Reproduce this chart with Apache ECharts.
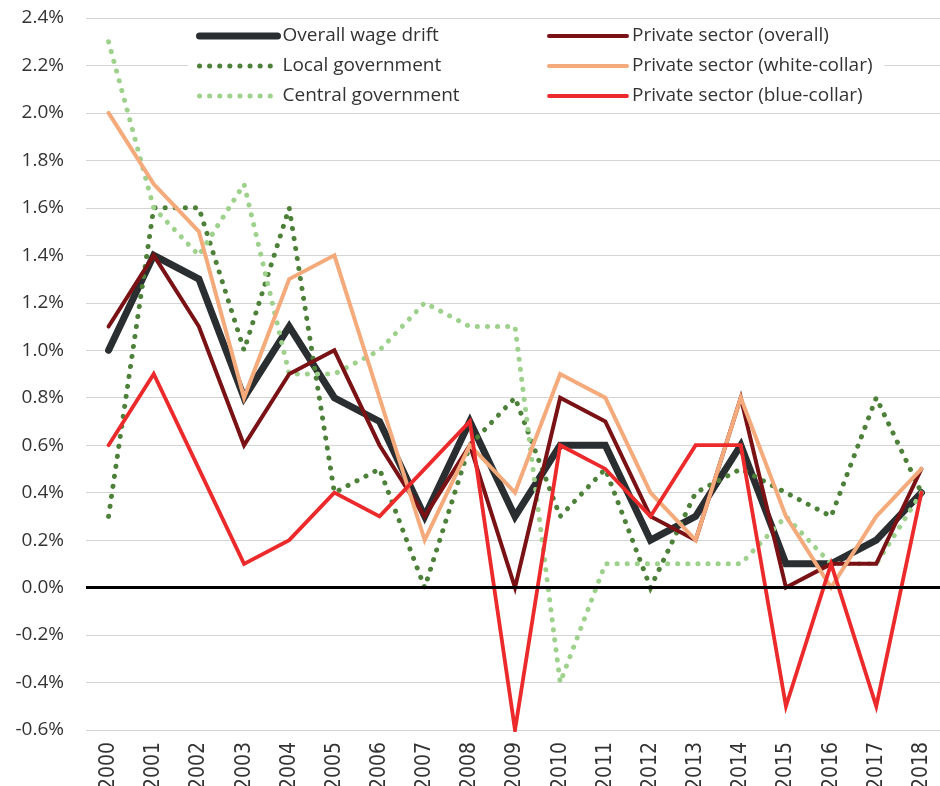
<!DOCTYPE html>
<html>
<head>
<meta charset="utf-8">
<script src="https://cdn.jsdelivr.net/npm/echarts@6/dist/echarts.min.js"></script>
<style>
  html, body { margin: 0; padding: 0; background: #fff; }
  #chart { width: 940px; height: 786px; }
</style>
</head>
<body>
<div id="chart"></div>
<script>
// years on the x axis
const years = ['2000', '2001', '2002', '2003', '2004', '2005', '2006', '2007', '2008', '2009',
    '2010', '2011', '2012', '2013', '2014', '2015', '2016', '2017', '2018']

// wage drift, percent
const overallDrift = [1.0, 1.4, 1.3, 0.8, 1.1, 0.8, 0.7, 0.3, 0.7, 0.3, 0.6, 0.6, 0.2, 0.3, 0.6, 0.1, 0.1, 0.2, 0.4]
const localGov = [0.3, 1.6, 1.6, 1.0, 1.6, 0.4, 0.5, 0.0, 0.6, 0.8, 0.3, 0.5, 0.0, 0.4, 0.5, 0.4, 0.3, 0.8, 0.4]
const centralGov = [2.3, 1.6, 1.4, 1.7, 0.9, 0.9, 1.0, 1.2, 1.1, 1.1, -0.4, 0.1, 0.1, 0.1, 0.1, 0.3, 0.1, 0.1, 0.4]
const privateOverall = [1.1, 1.4, 1.1, 0.6, 0.9, 1.0, 0.6, 0.3, 0.6, 0.0, 0.8, 0.7, 0.3, 0.2, 0.8, 0.0, 0.1, 0.1, 0.5]
const privateWhite = [2.0, 1.7, 1.5, 0.8, 1.3, 1.4, 0.8, 0.2, 0.6, 0.4, 0.9, 0.8, 0.4, 0.2, 0.8, 0.3, 0.0, 0.3, 0.5]
const privateBlue = [0.6, 0.9, 0.5, 0.1, 0.2, 0.4, 0.3, 0.5, 0.7, -0.6, 0.6, 0.5, 0.3, 0.6, 0.6, -0.5, 0.1, -0.5, 0.4]

const leftNames = ['Overall wage drift', 'Local government', 'Central government']
const rightNames = ['Private sector (overall)', 'Private sector (white-collar)', 'Private sector (blue-collar)']

const textFont = '"Open Sans", "Noto Sans", sans-serif'

// name -> [color, width, dotted]
const looks = {
    'Overall wage drift': ['#2a2e30', 7, false],
    'Local government': ['#4d8039', 5, true],
    'Central government': ['#9dd18c', 5, true],
    'Private sector (overall)': ['#7a1215', 4, false],
    'Private sector (white-collar)': ['#f4aa7b', 4, false],
    'Private sector (blue-collar)': ['#ec2a2b', 3.8, false]
}

function lineStyleOf(name) {
    const [color, width, dotted] = looks[name]
    return {
        color: color,
        width: width,
        type: dotted ? [0.1, 10] : 'solid',
        cap: 'round',
        join: 'miter'
    }
}

function lineSeries(name, data) {
    return {
        name: name,
        type: 'line',
        data: data,
        symbol: 'none',
        lineStyle: lineStyleOf(name),
        itemStyle: { color: looks[name][0] },
        emphasis: { disabled: true }
    }
}

function legendBox(names, left, padding) {
    return {
        data: names.map(n => ({ name: n, lineStyle: lineStyleOf(n) })),
        orient: 'vertical',
        left: left,
        top: 22,
        padding: padding,
        itemGap: 11,
        itemWidth: 78,
        itemHeight: 20,
        backgroundColor: '#fff',
        selectedMode: false,
        itemStyle: { opacity: 0 },
        textStyle: {
            fontFamily: textFont,
            fontSize: 19,
            color: '#333'
        }
    }
}

const chart = echarts.init(document.getElementById('chart'), null, { renderer: 'canvas' })

const overall = lineSeries(leftNames[0], overallDrift)
overall.markLine = {
    silent: true,
    symbol: 'none',
    label: { show: false },
    lineStyle: { color: '#000', width: 3, type: 'solid' },
    data: [{ yAxis: 0 }]
}

const option = {
    animation: false,
    backgroundColor: '#fff',
    grid: {
        left: 86,
        top: 18,
        width: 858,
        bottom: 56,
        containLabel: false,
        outerBoundsMode: 'none'
    },
    legend: [
        legendBox(leftNames, 188, [4.5, 110, 7, 8]),
        legendBox(rightNames, 540, [4.5, 12, 7, 7])
    ],
    xAxis: {
        type: 'category',
        data: years,
        boundaryGap: true,
        axisLine: { show: false, onZero: false },
        axisTick: { show: false },
        splitLine: { show: false },
        axisLabel: {
            interval: 0,
            rotate: 90,
            margin: 12,
            fontFamily: '"Liberation Sans Narrow", "DejaVu Sans Condensed", sans-serif',
            fontSize: 21,
            color: '#333'
        }
    },
    yAxis: {
        type: 'value',
        min: -0.6,
        max: 2.4,
        interval: 0.2,
        axisLine: { show: false },
        axisTick: { show: false },
        splitLine: { lineStyle: { color: '#d4d4d4', width: 1 } },
        axisLabel: {
            margin: 22,
            fontFamily: textFont,
            fontSize: 19,
            color: '#333',
            formatter: v => v.toFixed(1) + '%'
        }
    },
    series: [
        overall,
        lineSeries(leftNames[1], localGov),
        lineSeries(leftNames[2], centralGov),
        lineSeries(rightNames[0], privateOverall),
        lineSeries(rightNames[1], privateWhite),
        lineSeries(rightNames[2], privateBlue)
    ]
}

chart.setOption(option)
</script>
</body>
</html>
